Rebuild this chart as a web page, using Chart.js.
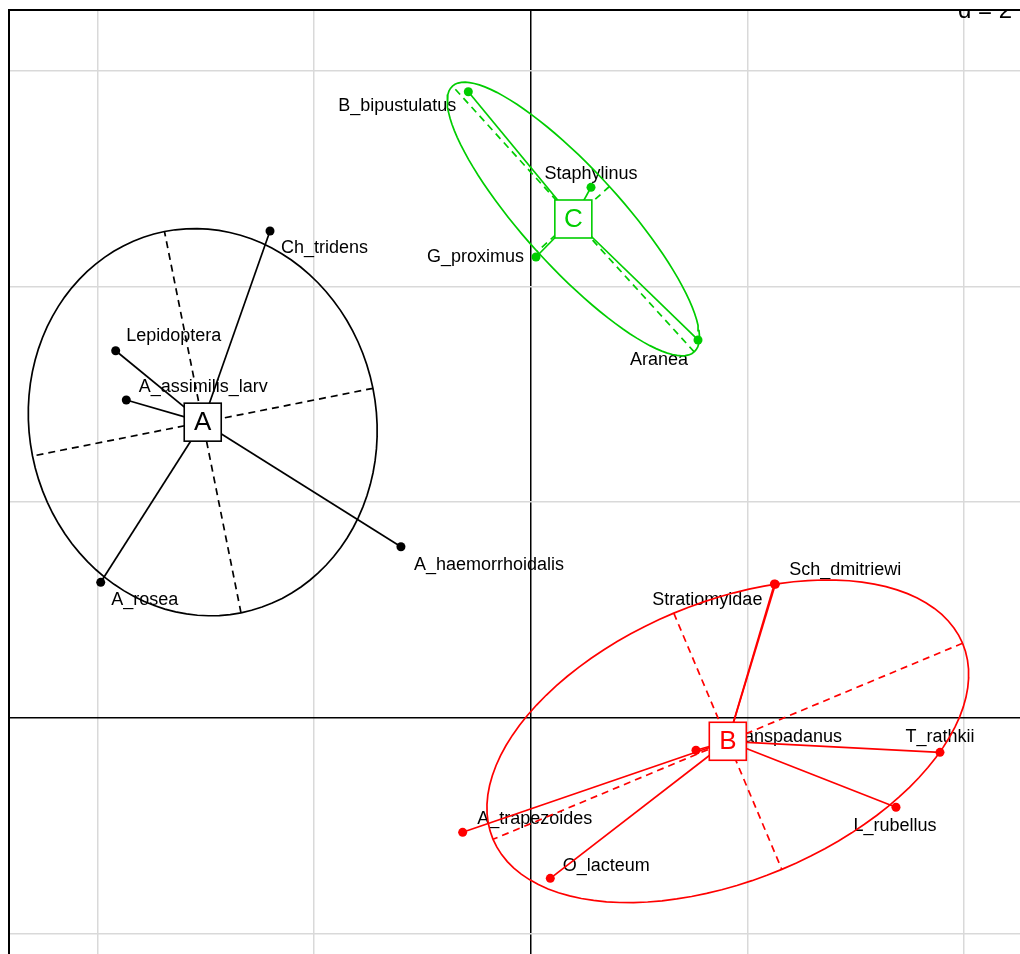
<!DOCTYPE html>
<html><head><meta charset="utf-8">
<script src="https://cdn.jsdelivr.net/npm/chart.js@4/dist/chart.umd.min.js"></script>
<style>
html,body{margin:0;padding:0;overflow:hidden;background:#fff;}
#wrap{position:absolute;left:0;top:0;width:1100px;height:1000px;}
</style></head><body>
<div id="wrap"><canvas id="c" width="1100" height="1000"></canvas></div>
<script>
// ---- data ----
const species = ['Ch_tridens','Lepidoptera','A_assimilis_larv','A_haemorrhoidalis','A_rosea',
  'B_bipustulatus','Staphylinus','G_proximus','Aranea',
  'Sch_dmitriewi','Stratiomyidae','C_transpadanus','T_rathkii','L_rubellus','A_trapezoides','O_lacteum'];
const speciesX = [-2.407,-3.832,-3.734,-1.198,-3.970, -0.576,0.557,0.049,1.545, 2.259,2.250,1.526,3.779,3.373,-0.628,0.181];
const speciesY = [4.515,3.404,2.947,1.586,1.256, 5.807,4.920,4.274,3.504, 1.237,1.240,-0.302,-0.321,-0.831,-1.063,-1.490];
const speciesGroup = ['A','A','A','A','A','C','C','C','C','B','B','B','B','B','B','B'];
const groups = ['A','B','C'];
const xTicks = [-4,-2,0,2,4];
const yTicks = [-2,0,2,4,6];
const scaleLabel = 'd = 2';

// ---- styles / layout (not data) ----
const groupColors = {A:'#000000', B:'#ff0000', C:'#00cd00'};
const labelOffsets = [[54.5,17],[58,-15],[77,-13],[88,18],[44,18],[-71,14],[0,-13],[-60.5,0],[-39,20],
  [70,-14],[-67,16],[80,-13],[0,-15],[-1,19],[72,-13],[56,-12]];
const cellipse = 1.5;
const FONT = '"Liberation Sans", Arial, sans-serif';
const LW = 1.7;

function ellipseOf(xs, ys, coeff){
  const n = xs.length;
  const m1 = xs.reduce((a,b)=>a+b,0)/n, m2 = ys.reduce((a,b)=>a+b,0)/n;
  let v1=0,v2=0,cxy=0;
  for(let i=0;i<n;i++){v1+=(xs[i]-m1)**2/n; v2+=(ys[i]-m2)**2/n; cxy+=(xs[i]-m1)*(ys[i]-m2)/n;}
  const delta = Math.sqrt((v1-v2)**2 + 4*cxy*cxy);
  let L1 = (v1+v2+delta)/2, L2 = v1+v2-L1;
  L1 = Math.max(L1,0); L2 = Math.max(L2,0);
  const l1 = Math.sqrt(L1), l2 = Math.sqrt(L2);
  let a0 = 1, b0 = (L1 - v1)/cxy;
  const nm = Math.sqrt(a0*a0+b0*b0); a0/=nm; b0/=nm;
  const c11 = coeff*a0*l1, c12 = -coeff*b0*l2, c21 = coeff*b0*l1, c22 = coeff*a0*l2;
  const pts = [];
  for(let i=0;i<=100;i++){const t=2*Math.PI*i/100; pts.push({x:m1+c11*Math.cos(t)+c12*Math.sin(t), y:m2+c21*Math.cos(t)+c22*Math.sin(t)});}
  return {cx:m1, cy:m2, pts,
    seg1:[{x:m1+c11,y:m2+c21},{x:m1-c11,y:m2-c21}],
    seg2:[{x:m1+c12,y:m2+c22},{x:m1-c12,y:m2-c22}]};
}

const datasets = [];
const centroids = {};
groups.forEach(g=>{
  const idx = species.map((s,i)=>i).filter(i=>speciesGroup[i]===g);
  const xs = idx.map(i=>speciesX[i]), ys = idx.map(i=>speciesY[i]);
  const e = ellipseOf(xs, ys, cellipse);
  centroids[g] = {x:e.cx, y:e.cy};
  const col = groupColors[g];
  const lineDs = (data, dash)=>({type:'scatter', data, showLine:true, borderColor:col, borderWidth:LW,
      borderDash:dash||[], pointRadius:0, fill:false, tension:0});
  datasets.push(lineDs(e.pts));
  datasets.push(lineDs(e.seg1,[7,5]));
  datasets.push(lineDs(e.seg2,[7,5]));
  idx.forEach(i=>datasets.push(lineDs([{x:e.cx,y:e.cy},{x:speciesX[i],y:speciesY[i]}])));
  datasets.push({type:'scatter', data: idx.map(i=>({x:speciesX[i],y:speciesY[i]})), pointRadius:4.5,
    pointBackgroundColor:col, pointBorderWidth:0, showLine:false});
});

const overlay = {
  id:'overlay',
  beforeDatasetsDraw(chart){
    const ctx = chart.ctx, xs = chart.scales.x, ys = chart.scales.y;
    ctx.save();
    ctx.font = '18px '+FONT; ctx.fillStyle = '#000'; ctx.textAlign='center'; ctx.textBaseline='middle';
    species.forEach((s,i)=>{
      const px = xs.getPixelForValue(speciesX[i]) + labelOffsets[i][0];
      const py = ys.getPixelForValue(speciesY[i]) + labelOffsets[i][1];
      ctx.fillText(s, px, py);
    });
    ctx.restore();
  },
  afterDatasetsDraw(chart){
    const ctx = chart.ctx, xs = chart.scales.x, ys = chart.scales.y;
    ctx.save();
    groups.forEach(g=>{
      const px = xs.getPixelForValue(centroids[g].x), py = ys.getPixelForValue(centroids[g].y);
      const w = 37, h = 38;
      ctx.fillStyle = '#fff'; ctx.fillRect(px-w/2, py-h/2, w, h);
      ctx.strokeStyle = groupColors[g]; ctx.lineWidth = 1.6; ctx.strokeRect(px-w/2, py-h/2, w, h);
      ctx.fillStyle = groupColors[g]; ctx.font = '26px '+FONT; ctx.textAlign='center'; ctx.textBaseline='middle';
      ctx.fillText(g, px, py+1);
    });
    ctx.restore();
  },
  afterDraw(chart){
    const ctx = chart.ctx, a = chart.chartArea;
    ctx.save();
    ctx.beginPath(); ctx.rect(0, a.top+1, chart.width, 40); ctx.clip();
    ctx.fillStyle = '#000'; ctx.font = '24px '+FONT; ctx.textAlign='right'; ctx.textBaseline='alphabetic';
    ctx.fillText(scaleLabel, 1012, 18);
    ctx.restore();
    ctx.save();
    ctx.strokeStyle = '#000'; ctx.lineWidth = 2;
    ctx.strokeRect(a.left, a.top, a.right-a.left, a.bottom-a.top);
    ctx.restore();
  }
};

new Chart(document.getElementById('c'), {
  type:'scatter',
  data:{datasets},
  options:{
    responsive:false, animation:false, devicePixelRatio:1,
    layout:{padding:{left:9, top:10, right:20, bottom:20}},
    plugins:{legend:{display:false}, tooltip:{enabled:false}},
    scales:{
      x:{type:'linear', min:-4.817, max:5.072,
        afterBuildTicks:s=>{s.ticks = xTicks.map(v=>({value:v}));},
        ticks:{display:false}, border:{display:false},
        grid:{drawTicks:false, lineWidth:1.5, color:c=>(c.tick && c.tick.value===0)?'#000':'#d9d9d9'}},
      y:{type:'linear', min:-2.433, max:6.565,
        afterBuildTicks:s=>{s.ticks = yTicks.map(v=>({value:v}));},
        ticks:{display:false}, border:{display:false},
        grid:{drawTicks:false, lineWidth:1.5, color:c=>(c.tick && c.tick.value===0)?'#000':'#d9d9d9'}}
    }
  },
  plugins:[overlay]
});
</script>
</body></html>
